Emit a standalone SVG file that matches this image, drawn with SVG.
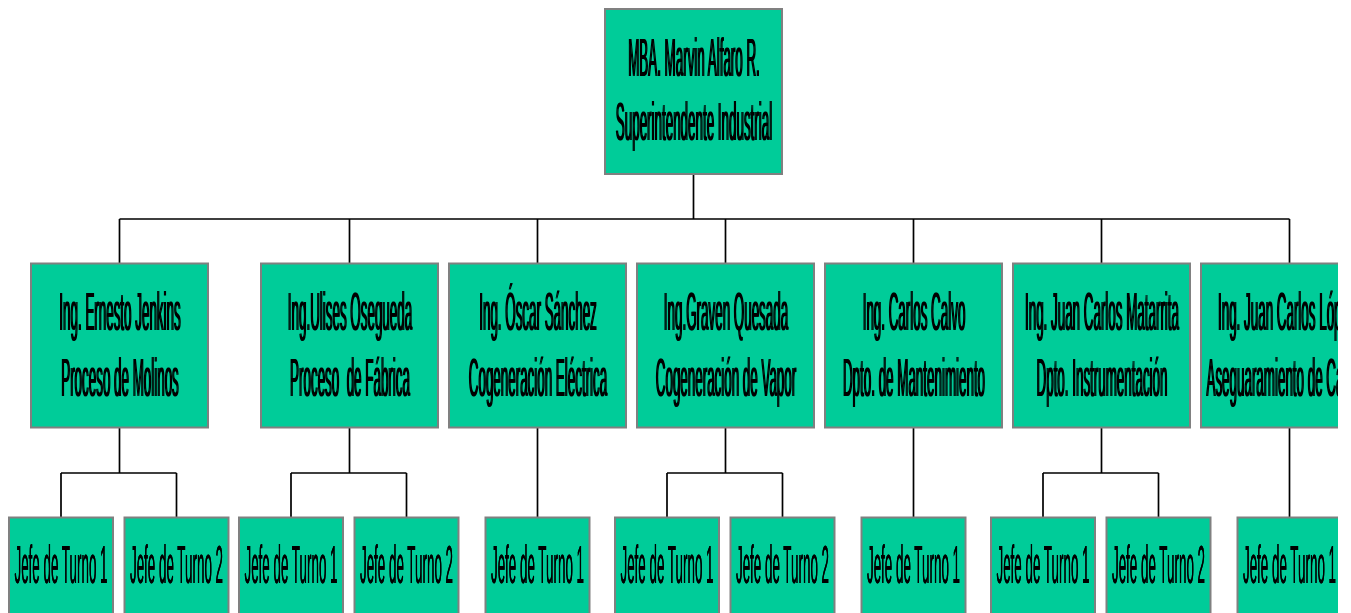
<svg xmlns="http://www.w3.org/2000/svg" width="1351" height="613" viewBox="0 0 1351 613">
<style>
.box{fill:#00CC99;stroke:#808080;stroke-width:2}
.t{font-family:"Liberation Sans",Arial,sans-serif;font-size:54px;fill:#000;text-anchor:middle}
.ts{font-family:"Liberation Sans",Arial,sans-serif;font-size:54px;fill:#000;text-anchor:start}
.c{fill:none;stroke:#000;stroke-width:1.7}
</style>
<defs>
<clipPath id="clipR"><rect x="0" y="0" width="1338" height="613"/></clipPath>
<filter id="thk" x="-5%" y="-5%" width="110%" height="110%">
<feOffset in="SourceGraphic" dx="0.7" dy="0" result="o"/>
<feMerge><feMergeNode in="SourceGraphic"/><feMergeNode in="o"/></feMerge>
</filter>
</defs>
<rect width="1351" height="613" fill="#fff"/>
<g id="connectors" class="c">
<path d="M693.5 174V219M119.5 219H1289.5"/>
<path d="M119.5 219V263.5M349.5 219V263.5M537.5 219V263.5M725.5 219V263.5M913.5 219V263.5M1101.5 219V263.5M1289.5 219V263.5"/>
<path d="M119.5 427.5V473M61 473H176.5M61 473V517.5M176.5 473V517.5"/>
<path d="M349.5 427.5V473M291 473H406.5M291 473V517.5M406.5 473V517.5"/>
<path d="M537.5 427.5V517.5"/>
<path d="M725.5 427.5V473M667 473H782.5M667 473V517.5M782.5 473V517.5"/>
<path d="M913.5 427.5V517.5"/>
<path d="M1101.5 427.5V473M1043 473H1158.5M1043 473V517.5M1158.5 473V517.5"/>
<path d="M1289.5 427.5V517.5"/>
</g>
<g id="n-superintendente">
<rect class="box" x="605" y="9" width="177" height="165"/>
<g filter="url(#thk)">
<text class="t" transform="translate(693.5 76) scale(0.248 1)">MBA. Marvin Alfaro R.</text>
<text class="t" transform="translate(693.5 140) scale(0.248 1)">Superintendente Industrial</text>
</g>
</g>
<g id="n-jenkins">
<rect class="box" x="31" y="263.5" width="177" height="164"/>
<g filter="url(#thk)">
<text class="t" transform="translate(119.5 330) scale(0.248 1)">Ing. Ernesto Jenkins</text>
<text class="t" transform="translate(119.5 396) scale(0.248 1)">Proceso de Molinos</text>
</g>
</g>
<g id="n-osegueda">
<rect class="box" x="261" y="263.5" width="177" height="164"/>
<g filter="url(#thk)">
<text class="t" transform="translate(349.5 330) scale(0.248 1)">Ing.Ulises Osegueda</text>
<text class="t" transform="translate(349.5 396) scale(0.248 1)" xml:space="preserve">Proceso  de Fábrica</text>
</g>
</g>
<g id="n-sanchez">
<rect class="box" x="449" y="263.5" width="177" height="164"/>
<g filter="url(#thk)">
<text class="t" transform="translate(537.5 330) scale(0.248 1)">Ing. Óscar Sánchez</text>
<text class="t" transform="translate(537.5 396) scale(0.248 1)">Cogeneración Eléctrica</text>
</g>
</g>
<g id="n-quesada">
<rect class="box" x="637" y="263.5" width="177" height="164"/>
<g filter="url(#thk)">
<text class="t" transform="translate(725.5 330) scale(0.248 1)">Ing.Graven Quesada</text>
<text class="t" transform="translate(725.5 396) scale(0.248 1)">Cogeneración de Vapor</text>
</g>
</g>
<g id="n-calvo">
<rect class="box" x="825" y="263.5" width="177" height="164"/>
<g filter="url(#thk)">
<text class="t" transform="translate(913.5 330) scale(0.248 1)">Ing. Carlos Calvo</text>
<text class="t" transform="translate(913.5 396) scale(0.248 1)">Dpto. de Mantenimiento</text>
</g>
</g>
<g id="n-matarrita">
<rect class="box" x="1013" y="263.5" width="177" height="164"/>
<g filter="url(#thk)">
<text class="t" transform="translate(1101.5 330) scale(0.248 1)">Ing. Juan Carlos Matarrita</text>
<text class="t" transform="translate(1101.5 396) scale(0.248 1)">Dpto. Instrumentación</text>
</g>
</g>
<g id="n-lopez" clip-path="url(#clipR)">
<rect class="box" x="1201" y="263.5" width="177" height="164"/>
<g filter="url(#thk)">
<text class="ts" transform="translate(1217.5 330) scale(0.248 1)">Ing. Juan Carlos Lóp</text>
<text class="ts" transform="translate(1206 396) scale(0.248 1)">Aseguaramiento de Ca</text>
</g>
</g>
<g id="n-j1-1"><rect class="box" x="9" y="517.5" width="104" height="110"/><text class="t" filter="url(#thk)" transform="translate(61 583) scale(0.248 1)">Jefe de Turno 1</text></g>
<g id="n-j1-2"><rect class="box" x="124.5" y="517.5" width="104" height="110"/><text class="t" filter="url(#thk)" transform="translate(176.5 583) scale(0.248 1)">Jefe de Turno 2</text></g>
<g id="n-j2-1"><rect class="box" x="239" y="517.5" width="104" height="110"/><text class="t" filter="url(#thk)" transform="translate(291 583) scale(0.248 1)">Jefe de Turno 1</text></g>
<g id="n-j2-2"><rect class="box" x="354.5" y="517.5" width="104" height="110"/><text class="t" filter="url(#thk)" transform="translate(406.5 583) scale(0.248 1)">Jefe de Turno 2</text></g>
<g id="n-j3-1"><rect class="box" x="485.5" y="517.5" width="104" height="110"/><text class="t" filter="url(#thk)" transform="translate(537.5 583) scale(0.248 1)">Jefe de Turno 1</text></g>
<g id="n-j4-1"><rect class="box" x="615" y="517.5" width="104" height="110"/><text class="t" filter="url(#thk)" transform="translate(667 583) scale(0.248 1)">Jefe de Turno 1</text></g>
<g id="n-j4-2"><rect class="box" x="730.5" y="517.5" width="104" height="110"/><text class="t" filter="url(#thk)" transform="translate(782.5 583) scale(0.248 1)">Jefe de Turno 2</text></g>
<g id="n-j5-1"><rect class="box" x="861.5" y="517.5" width="104" height="110"/><text class="t" filter="url(#thk)" transform="translate(913.5 583) scale(0.248 1)">Jefe de Turno 1</text></g>
<g id="n-j6-1"><rect class="box" x="991" y="517.5" width="104" height="110"/><text class="t" filter="url(#thk)" transform="translate(1043 583) scale(0.248 1)">Jefe de Turno 1</text></g>
<g id="n-j6-2"><rect class="box" x="1106.5" y="517.5" width="104" height="110"/><text class="t" filter="url(#thk)" transform="translate(1158.5 583) scale(0.248 1)">Jefe de Turno 2</text></g>
<g id="n-j7-1" clip-path="url(#clipR)"><rect class="box" x="1237.5" y="517.5" width="104" height="110"/><text class="t" filter="url(#thk)" transform="translate(1289.5 583) scale(0.248 1)">Jefe de Turno 1</text></g>
</svg>
